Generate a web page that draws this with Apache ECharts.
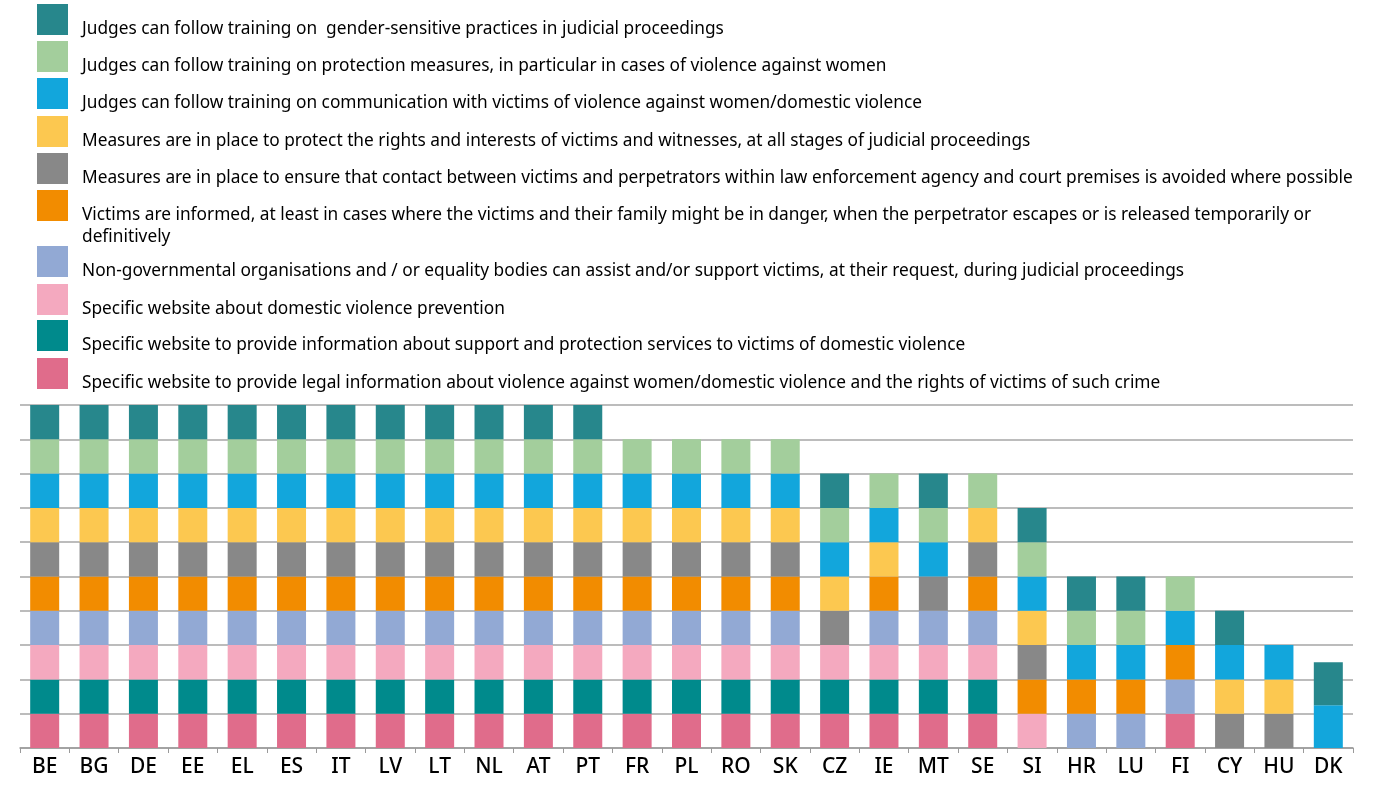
<!DOCTYPE html>
<html>
<head>
<meta charset="utf-8">
<script src="https://cdn.jsdelivr.net/npm/echarts@6/dist/echarts.min.js"></script>
<style>
  html, body { margin: 0; padding: 0; background: #fff; }
  #chart { width: 1375px; height: 794px; }
</style>
</head>
<body>
<div id="chart"></div>
<script>
// countries on the x axis
var countries = ['BE','BG','DE','EE','EL','ES','IT','LV','LT','NL','AT','PT','FR','PL','RO','SK','CZ','IE','MT','SE','SI','HR','LU','FI','CY','HU','DK'];

// one array per measure, stacked from the bottom up
//                 BE BG DE EE EL ES IT LV LT NL AT PT FR PL RO SK CZ IE MT SE SI HR LU FI CY HU DK
var legalInfo   = [1, 1, 1, 1, 1, 1, 1, 1, 1, 1, 1, 1, 1, 1, 1, 1, 1, 1, 1, 1, 0, 0, 0, 1, 0, 0, 0];
var supportSite = [1, 1, 1, 1, 1, 1, 1, 1, 1, 1, 1, 1, 1, 1, 1, 1, 1, 1, 1, 1, 0, 0, 0, 0, 0, 0, 0];
var preventSite = [1, 1, 1, 1, 1, 1, 1, 1, 1, 1, 1, 1, 1, 1, 1, 1, 1, 1, 1, 1, 1, 0, 0, 0, 0, 0, 0];
var ngoAssist   = [1, 1, 1, 1, 1, 1, 1, 1, 1, 1, 1, 1, 1, 1, 1, 1, 0, 1, 1, 1, 0, 1, 1, 1, 0, 0, 0];
var informed    = [1, 1, 1, 1, 1, 1, 1, 1, 1, 1, 1, 1, 1, 1, 1, 1, 0, 1, 0, 1, 1, 1, 1, 1, 0, 0, 0];
var noContact   = [1, 1, 1, 1, 1, 1, 1, 1, 1, 1, 1, 1, 1, 1, 1, 1, 1, 0, 1, 1, 1, 0, 0, 0, 1, 1, 0];
var protectRts  = [1, 1, 1, 1, 1, 1, 1, 1, 1, 1, 1, 1, 1, 1, 1, 1, 1, 1, 0, 1, 1, 0, 0, 0, 1, 1, 0];
var trainComm   = [1, 1, 1, 1, 1, 1, 1, 1, 1, 1, 1, 1, 1, 1, 1, 1, 1, 1, 1, 0, 1, 1, 1, 1, 1, 1, 1.25];
var trainProt   = [1, 1, 1, 1, 1, 1, 1, 1, 1, 1, 1, 1, 1, 1, 1, 1, 1, 1, 1, 1, 1, 1, 1, 1, 0, 0, 0];
var trainGender = [1, 1, 1, 1, 1, 1, 1, 1, 1, 1, 1, 1, 0, 0, 0, 0, 1, 0, 1, 0, 1, 1, 1, 0, 1, 0, 1.25];

var names = [
  'Specific website to provide legal information about violence against women/domestic violence and the rights of victims of such crime',
  'Specific website to provide information about support and protection services to victims of domestic violence',
  'Specific website about domestic violence prevention',
  'Non-governmental organisations and / or equality bodies can assist and/or support victims, at their request, during judicial proceedings',
  'Victims are informed, at least in cases where the victims and their family might be in danger, when the perpetrator escapes or is released temporarily or definitively',
  'Measures are in place to ensure that contact between victims and perpetrators within law enforcement agency and court premises is avoided where possible',
  'Measures are in place to protect the rights and interests of victims and witnesses, at all stages of judicial proceedings',
  'Judges can follow training on communication with victims of violence against women/domestic violence',
  'Judges can follow training on protection measures, in particular in cases of violence against women',
  'Judges can follow training on  gender-sensitive practices in judicial proceedings'
];
var values = [legalInfo, supportSite, preventSite, ngoAssist, informed, noContact, protectRts, trainComm, trainProt, trainGender];
var colors = ['#E06C8B', '#008A8C', '#F4A9BF', '#92A9D4', '#F28C00', '#888888', '#FCC850', '#12A6DC', '#A3CE9C', '#27878C'];

var font = 'Noto Sans';
var chart = echarts.init(document.getElementById('chart'));

// legend: one component per entry, listed top to bottom (reverse of stack).
// the icon path carries empty room below the square so the text sits lower
var iconTops = [4, 41, 78, 116, 153, 190, 246, 284, 320, 358];
var legends = [];
for (var i = 0; i < names.length; i++) {
  var idx = names.length - 1 - i;
  var h = idx === 4 ? 72 : 51;
  legends.push({
    data: [names[idx]],
    left: 37,
    top: iconTops[i],
    padding: 0,
    icon: 'path://M0,0L31,0L31,31L0,31ZM0,' + h + 'L0.01,' + h,
    itemWidth: 31,
    itemHeight: h,
    selectedMode: false,
    formatter: function (n) {
      return n.replace('temporarily or definitively', 'temporarily or\ndefinitively');
    },
    textStyle: {
      fontFamily: font,
      fontSize: 17.3,
      color: '#000',
      lineHeight: idx === 4 ? 22 : 20,
      padding: [0, 0, 0, 9]
    }
  });
}

var series = [];
for (var s = 0; s < names.length; s++) {
  series.push({
    name: names[s],
    type: 'bar',
    stack: 'total',
    barWidth: 29,
    itemStyle: { color: colors[s] },
    emphasis: { disabled: true },
    data: values[s]
  });
}

var option = {
  animation: false,
  textStyle: { fontFamily: font },
  legend: legends,
  grid: { left: 20, right: 22, top: 405, bottom: 46 },
  xAxis: {
    type: 'category',
    data: countries,
    axisLine: { lineStyle: { color: '#9a9a9a', width: 1.5 } },
    axisTick: { show: true, length: 5, lineStyle: { color: '#9a9a9a' } },
    axisLabel: { fontFamily: font, fontSize: 21, fontWeight: 500, color: '#000', margin: 9 }
  },
  yAxis: {
    type: 'value',
    min: 0,
    max: 10,
    interval: 1,
    axisLabel: { show: false },
    axisLine: { show: false },
    axisTick: { show: false },
    splitLine: { lineStyle: { color: '#a6a6a6', width: 1.5 } }
  },
  series: series
};
chart.setOption(option);
</script>
</body>
</html>
